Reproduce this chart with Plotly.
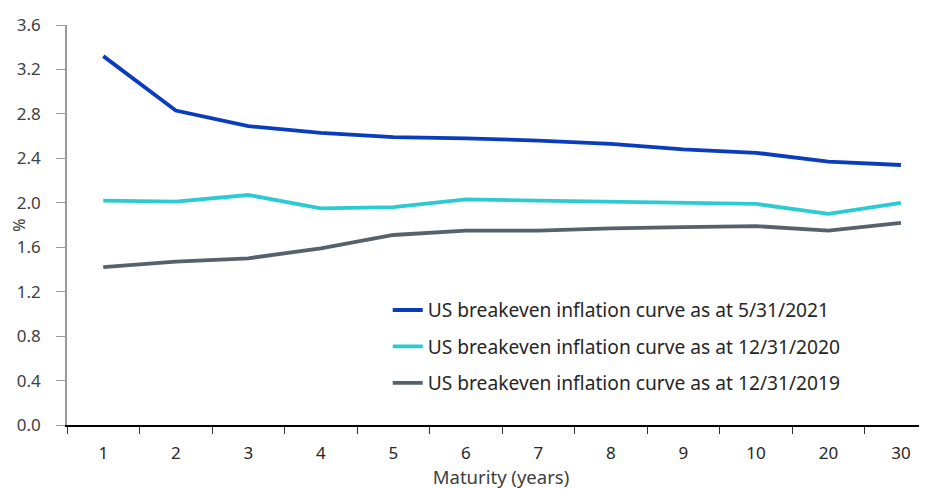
import plotly.graph_objects as go

maturities = ["1", "2", "3", "4", "5", "6", "7", "8", "9", "10", "20", "30"]
curve_2021 = [3.32, 2.83, 2.69, 2.63, 2.59, 2.58, 2.56, 2.53, 2.48, 2.45, 2.37, 2.34]
curve_2020 = [2.02, 2.01, 2.07, 1.95, 1.96, 2.03, 2.02, 2.01, 2.00, 1.99, 1.90, 2.00]
curve_2019 = [1.42, 1.47, 1.50, 1.59, 1.71, 1.75, 1.75, 1.77, 1.78, 1.79, 1.75, 1.82]

names = [
    "US breakeven inflation curve as at 5/31/2021",
    "US breakeven inflation curve as at 12/31/2020",
    "US breakeven inflation curve as at 12/31/2019",
]
colors = ["#0a3cbe", "#2ccbd2", "#56616b"]

fig = go.Figure()
for i, (vals, name, col) in enumerate(zip([curve_2021, curve_2020, curve_2019], names, colors)):
    fig.add_trace(go.Scatter(
        x=maturities, y=vals, mode="lines", name=name,
        line=dict(color=col, width=3.8), legendgroup=f"g{i}",
    ))

font_family = "Noto Sans, Open Sans, DejaVu Sans"
fig.update_layout(
    width=927, height=489,
    margin=dict(l=59, r=0, t=17, b=72),
    paper_bgcolor="white", plot_bgcolor="white",
    font=dict(family=font_family, size=17, color="#404040"),
    showlegend=True,
    legend=dict(
        x=0.3695, y=0.335, xanchor="left", yanchor="top",
        font=dict(size=19.2, color="#262626"),
        tracegroupgap=8.5, bgcolor="rgba(0,0,0,0)",
    ),
    xaxis=dict(
        type="category", range=[-0.5, 11.47], automargin=False,
        showline=True, linecolor="#000000", linewidth=1.5,
        ticks="outside", ticklen=7, tickcolor="#333333", tickson="boundaries",
        ticklabelstandoff=12,
        showgrid=False, zeroline=False,
        tickfont=dict(size=17, color="#262626"),
        title=dict(text="Maturity (years)", font=dict(size=18.5, color="#404040"), standoff=0),
    ),
    yaxis=dict(
        range=[0, 3.6], dtick=0.4, tick0=0, tickformat=".1f", automargin=False,
        showline=True, linecolor="#999999", linewidth=1.5,
        ticks="outside", ticklen=9, tickcolor="#999999",
        ticklabelstandoff=12,
        showgrid=False, zeroline=False,
        tickfont=dict(size=17, color="#404040"),
        title=dict(text="%", font=dict(size=16, color="#404040"), standoff=4),
    ),
)

fig.write_html("out.html")
